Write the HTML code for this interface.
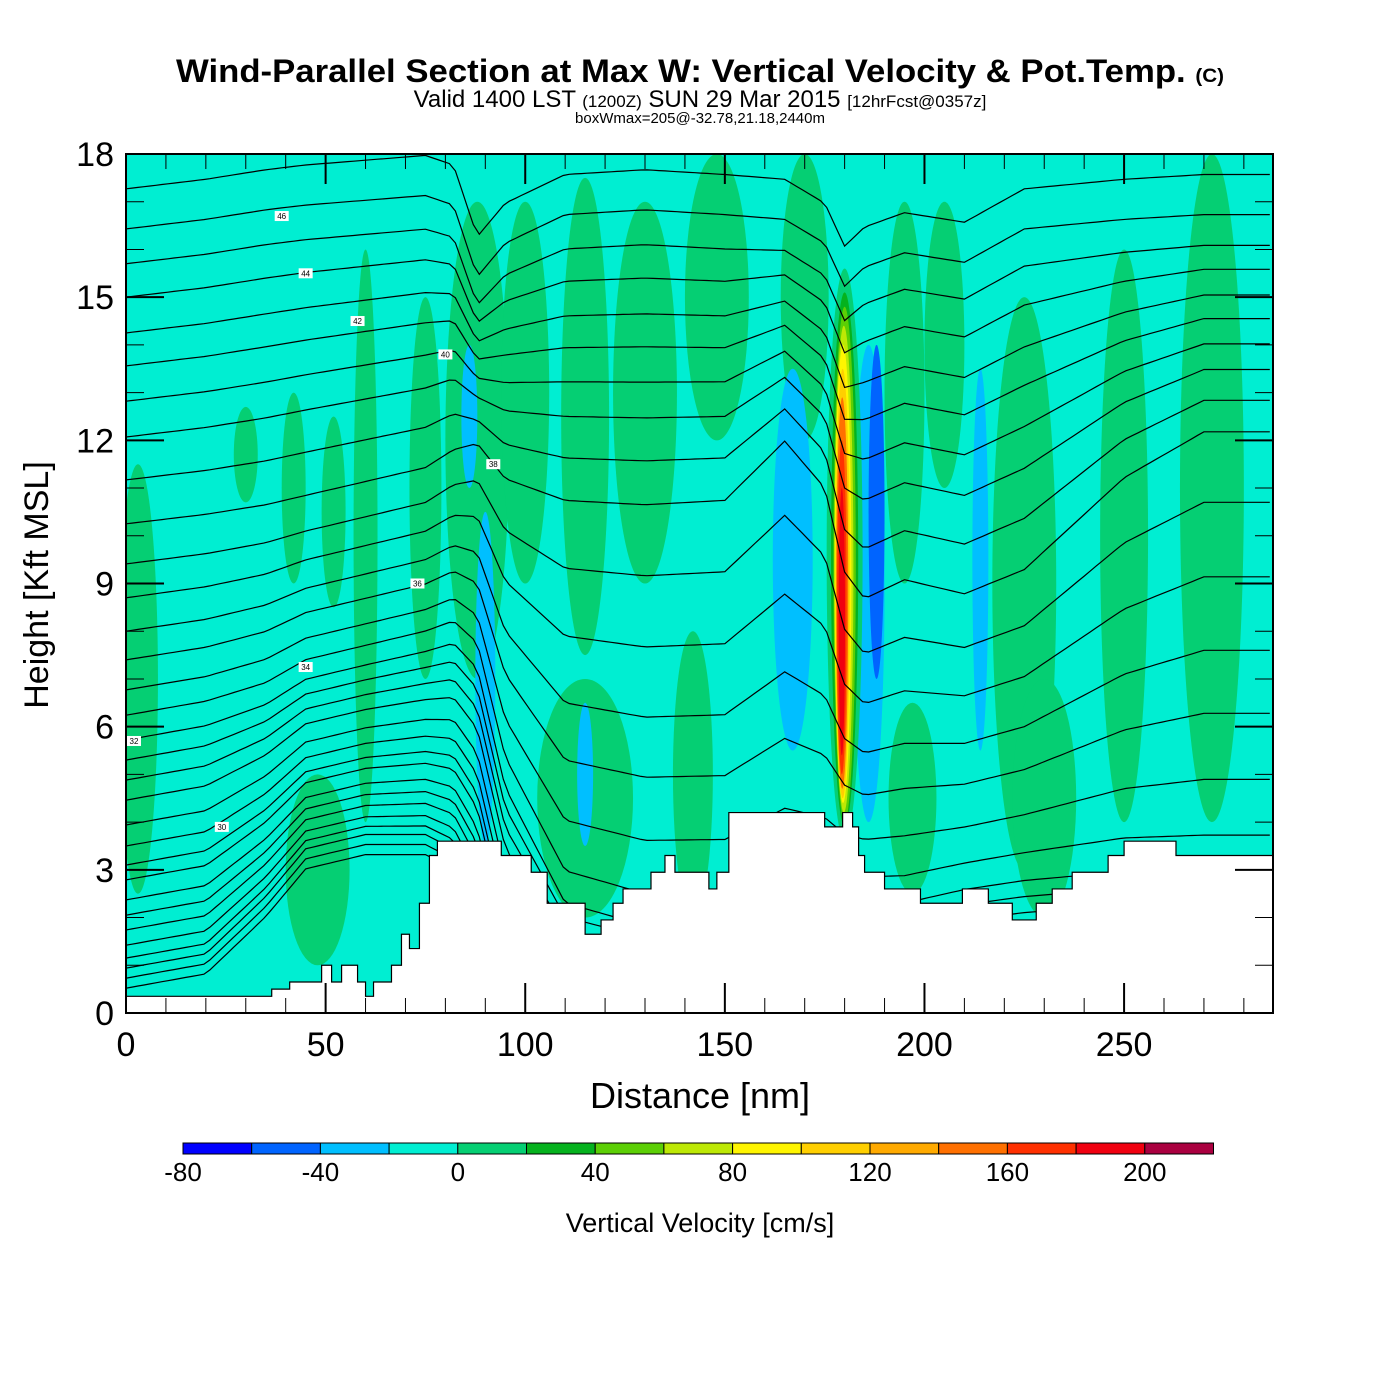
<!DOCTYPE html>
<html><head><meta charset="utf-8">
<style>
html,body{margin:0;padding:0;background:#fff;}
svg{display:block;font-family:"Liberation Sans",Arial,sans-serif;}
</style></head>
<body>
<svg id="chart" width="1400" height="1400" viewBox="0 0 1400 1400">
<text x="700" y="82" text-anchor="middle" font-size="32" font-weight="bold" textLength="1048" lengthAdjust="spacingAndGlyphs">Wind-Parallel Section at Max W: Vertical Velocity &amp; Pot.Temp. <tspan font-size="19">(C)</tspan></text>
<text x="700" y="107" text-anchor="middle" font-size="24">Valid 1400 LST <tspan font-size="17">(1200Z)</tspan> SUN 29 Mar 2015 <tspan font-size="17">[12hrFcst@0357z]</tspan></text>
<text x="700" y="123" text-anchor="middle" font-size="15">boxWmax=205@-32.78,21.18,2440m</text>
<defs><clipPath id="pc"><rect x="126" y="154" width="1147" height="859"/></clipPath></defs>
<g id="plot" clip-path="url(#pc)">
<rect x="126" y="154" width="1147" height="859" fill="#00eed2"/>
<g id="fill"></g><g id="lines"></g><g id="terrain"></g><g id="labels"></g>
</g>
<g id="axes"></g>
<g id="cbar"></g>
</svg>
<script>
// ---- data ----
const binEdges=[-80,-60,-40,-20,0,20,40,60,80,100,120,140,160,180,200,220];
const binColors=['#0000ff','#0064ff','#00bfff','#00eed2','#05cf73','#05b21e','#5ccf05','#bde805','#fff500','#ffcf00','#ffaa00','#ff7000','#ff3000','#f00010','#aa0040'];
const cbarTicks=[-80,-40,0,40,80,120,160,200];
const xTicks=[0,50,100,150,200,250];
const yTicks=[0,3,6,9,12,15,18];
// vertical-velocity blobs: distance(nm), height(kft), half-width(nm), half-height(kft), w(cm/s)
const blobDist=[3,30,42,52,60,75,88,100,115,130,148,170,195,205,225,250,272,115,197,230,142,48,86,90,115,167,186,188,214,180,180,180,179.8,179.6,179.5,179.4,179.3,179.3];
const blobH   =[7,11.7,11,10.5,10,11,12,13,12.5,13,15,15,13,14,9,10,11,4.5,4.5,4.5,5,3,12.5,7,5,9.5,9,10.5,9.5,9.6,9.5,9.4,9.3,9.2,9.0,8.8,8.5,8.2];
const blobHW  =[5,3,3,3,3,4,8,6,6,8,8,6,5,5,8,6,8,12,6,8,5,8,2,2.5,2,5,4,2,2,4.5,3.4,2.8,2.4,2.1,1.8,1.5,1.2,0.8];
const blobHH  =[4.5,1,2,2,6,4,5,4,5,4,3,3,4,3,6,6,7,2.5,2,2.5,3,2,1.5,3.5,1.5,4,5,3.5,4,6,5.6,5.4,5.1,4.8,4.5,4.1,3.5,2.8];
const blobW   =[10,10,10,10,10,10,10,10,10,10,10,10,10,10,10,10,10,10,10,10,10,10,-30,-30,-30,-30,-30,-50,-30,10,30,50,70,90,110,140,170,190];
// terrain steps: start distance (nm), height (kft)
const terrD=[0,35,36.5,41,49,51.5,54,58,60,62,65,66.5,69,71,73.5,76,78,86,94,95.5,101.5,103,105.5,115,118.5,119,122,124.5,131.5,135,137.5,139,146,148,151,166,175,178,179.5,182,183.5,185,190,199,209.5,216,222,228,232,237,246,250,263,287.3];
const terrH=[0.35,0.35,0.5,0.65,1,0.65,1,0.65,0.35,0.65,0.65,1,1.65,1.35,2.3,3.3,3.6,3.6,3.3,3.3,2.95,2.95,2.3,1.65,1.65,1.95,2.3,2.6,2.95,3.3,2.95,2.95,2.6,2.95,4.2,4.2,3.9,3.9,4.2,3.9,3.3,2.95,2.6,2.3,2.6,2.3,1.95,2.3,2.6,2.95,3.3,3.6,3.3,2.95];
// isentropes: base heights at distance 0 (kft)
const lineBase=[17.27,16.43,15.7,15.0,14.25,13.56,12.82,12.07,11.17,10.25,9.41,8.7,8.0,7.4,6.77,6.24,5.72,5.3,4.88,4.46,3.94,3.5,3.1,2.79,2.37,2.05,1.74,1.42,1.15,0.94,0.73,0.52];
const knotD=[0,20,35,45,60,75,82,88,95,110,130,150,165,175,180,185,195,210,225,250,270,287.3];
const dispHigh=[0,0.2,0.4,0.5,0.6,0.7,0.5,-1.0,-0.3,0.3,0.4,0.3,0.2,-0.3,-1.2,-0.8,-0.5,-0.7,0.0,0.2,0.3,0.3];
const dispMid=[0,0.2,0.4,0.6,0.9,1.2,1.6,1.8,1.0,0.5,0.4,0.5,1.8,0.8,-1.0,-1.6,-1.2,-1.5,-1.0,1.0,2.0,2.0];
const dispLow=[0,0.3,0.7,1.2,1.5,1.8,2.0,1.5,-1,-3.5,-4,-4,-3.5,-3.5,-3.5,-3.5,-3.5,-3.2,-3,-2.8,-2.8,-2.8];
const dispBottom=[0,0.3,1.5,2.5,2.8,2.8,2.5,1.5,-1,-2,-2,-2,-2,-2,-2,-2,-2,-2,-2,-2,-2,-2];
const labelText=['46','44','42','40','38','36','34','32','30'];
const labelD=[39,45,58,80,92,73,45,2,24];
const labelH=[16.7,15.5,14.5,13.8,11.5,9.0,7.25,5.7,3.9];

// ---- scales ----
const X0=126,X1=1273,Y0=1013,Y1=154,DMAX=287.3,HMAX=18;
const sx=d=>X0+d*(X1-X0)/DMAX;
const sy=h=>Y0-h*(Y0-Y1)/HMAX;
const NS='http://www.w3.org/2000/svg';
function mk(tag,attrs,parent){const e=document.createElementNS(NS,tag);for(const k in attrs)e.setAttribute(k,attrs[k]);parent.appendChild(e);return e;}
function colorFor(w){for(let i=0;i<binColors.length;i++){if(w<binEdges[i+1])return binColors[i];}return binColors[binColors.length-1];}

// fills
const gF=document.getElementById('fill');
for(let i=0;i<blobDist.length;i++){
  const e=mk('ellipse',{cx:sx(blobDist[i]),cy:sy(blobH[i]),rx:sx(blobHW[i])-X0,ry:Y0-sy(blobHH[i]),fill:colorFor(blobW[i])},gF);
  
  
}
// isentropes
function interp(arr,d){for(let k=0;k<knotD.length-1;k++){if(d<=knotD[k+1]){const t=(d-knotD[k])/(knotD[k+1]-knotD[k]);return arr[k]+t*(arr[k+1]-arr[k]);}}return arr[arr.length-1];}
function disp(base,d){
  const a=interp(dispBottom,d),b=interp(dispLow,d),c=interp(dispMid,d),e=interp(dispHigh,d);
  if(base<=1)return a;
  if(base<=6)return a+(b-a)*(base-1)/5;
  if(base<=10)return b+(c-b)*(base-6)/4;
  if(base<=16)return c+(e-c)*(base-10)/6;
  return e;
}
const gL=document.getElementById('lines');
lineBase.forEach((b,i)=>{
  let p='';
  for(let d=0;d<=DMAX;d+=1.5){p+=(d?'L':'M')+sx(d).toFixed(1)+','+sy(b+disp(b,d)).toFixed(1);}
  const e=mk('path',{d:p,fill:'none',stroke:'#000','stroke-width':1.2},gL);
  
  
});
// terrain
let tp='M'+sx(0)+','+Y0;
for(let i=0;i<terrD.length-1;i++){tp+='L'+sx(terrD[i])+','+sy(terrH[i])+'L'+sx(terrD[i+1])+','+sy(terrH[i]);}
tp+='L'+X1+','+Y0+'Z';
const tEl=mk('path',{d:tp,fill:'#fff',stroke:'#000','stroke-width':1.2},document.getElementById('terrain'));


// contour labels
const gLb=document.getElementById('labels');
labelText.forEach((t,i)=>{
  const x=sx(labelD[i]),y=sy(labelH[i]);
  const r=mk('rect',{x:x-7,y:y-5,width:14,height:10,fill:'#fff'},gLb);
  
  
  const tx=mk('text',{x:x,y:y+3,'font-size':8,'text-anchor':'middle'},gLb);
  tx.textContent=t;
  
  
});
// axes
const gA=document.getElementById('axes');
const fr=mk('rect',{x:X0,y:Y1,width:X1-X0,height:Y0-Y1,fill:'none',stroke:'#000','stroke-width':2},gA);


for(let d=0;d<=280;d+=10){
  const maj=d%50===0,L=maj?30:15;
  mk('line',{x1:sx(d),y1:Y0,x2:sx(d),y2:Y0-L,stroke:'#000','stroke-width':maj?2:1},gA);
  mk('line',{x1:sx(d),y1:Y1,x2:sx(d),y2:Y1+L,stroke:'#000','stroke-width':maj?2:1},gA);
}
for(let h=0;h<=18;h++){
  const maj=h%3===0,L=maj?38:18;
  mk('line',{x1:X0,y1:sy(h),x2:X0+L,y2:sy(h),stroke:'#000','stroke-width':maj?2:1},gA);
  mk('line',{x1:X1,y1:sy(h),x2:X1-L,y2:sy(h),stroke:'#000','stroke-width':maj?2:1},gA);
}
xTicks.forEach(v=>{const t=mk('text',{x:sx(v),y:1056,'font-size':34,'text-anchor':'middle'},gA);t.textContent=v;
  });
yTicks.forEach(v=>{const t=mk('text',{x:114,y:sy(v)+12,'font-size':34,'text-anchor':'end'},gA);t.textContent=v;
  });
const xt=mk('text',{x:700,y:1108,'font-size':36,'text-anchor':'middle'},gA);xt.textContent='Distance [nm]';

const yt=mk('text',{x:48,y:585,'font-size':34,'text-anchor':'middle',transform:'rotate(-90 48 585)'},gA);yt.textContent='Height [Kft MSL]';

// colorbar
const gC=document.getElementById('cbar');
const CB0=183,CBW=68.7;
binColors.forEach((c,i)=>{const r=mk('rect',{x:CB0+i*CBW,y:1143,width:CBW,height:11,fill:c,stroke:'#000','stroke-width':1},gC);
  });
cbarTicks.forEach(v=>{const i=binEdges.indexOf(v);const t=mk('text',{x:CB0+i*CBW,y:1181,'font-size':26,'text-anchor':'middle'},gC);t.textContent=v;
  });
const ct=mk('text',{x:700,y:1232,'font-size':27,'text-anchor':'middle'},gC);ct.textContent='Vertical Velocity [cm/s]';

</script>
</body></html>
